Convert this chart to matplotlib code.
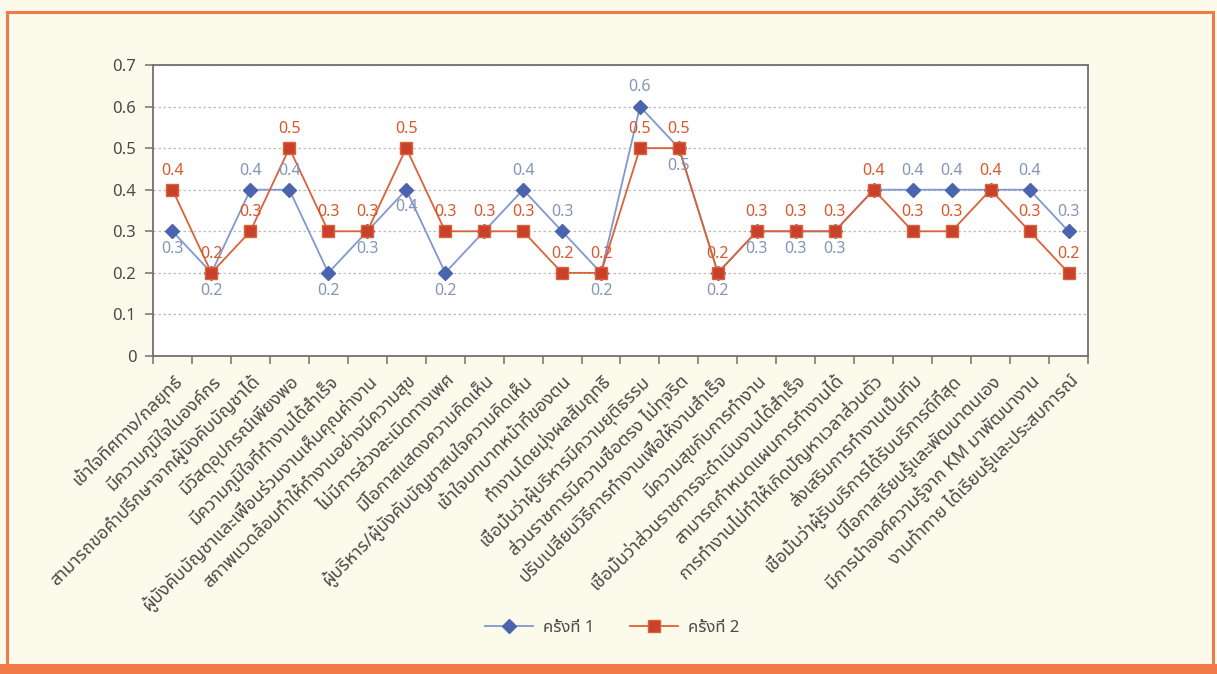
import matplotlib
matplotlib.use("Agg")
import matplotlib.pyplot as plt
from matplotlib import font_manager
from matplotlib.ft2font import FT2Font
from matplotlib.patches import Rectangle
from matplotlib.lines import Line2D

# survey items (x axis)
categories = [
    "เข้าใจทิศทาง/กลยุทธ์",
    "มีความภูมิใจในองค์กร",
    "สามารถขอคำปรึกษาจากผู้บังคับบัญชาได้",
    "มีวัสดุอุปกรณ์เพียงพอ",
    "มีความภูมิใจที่ทำงานได้สำเร็จ",
    "ผู้บังคับบัญชาและเพื่อนร่วมงานเห็นคุณค่างาน",
    "สภาพแวดล้อมทำให้ทำงานอย่างมีความสุข",
    "ไม่มีการล่วงละเมิดทางเพศ",
    "มีโอกาสแสดงความคิดเห็น",
    "ผู้บริหาร/ผู้บังคับบัญชาสนใจความคิดเห็น",
    "เข้าใจบทบาทหน้าที่ของตน",
    "ทำงานโดยมุ่งผลสัมฤทธิ์",
    "เชื่อมั่นว่าผู้บริหารมีความยุติธรรม",
    "ส่วนราชการมีความซื่อตรง ไม่ทุจริต",
    "ปรับเปลี่ยนวิธีการทำงานเพื่อให้งานสำเร็จ",
    "มีความสุขกับการทำงาน",
    "เชื่อมั่นว่าส่วนราชการจะดำเนินงานได้สำเร็จ",
    "สามารถกำหนดแผนการทำงานได้",
    "การทำงานไม่ทำให้เกิดปัญหาเวลาส่วนตัว",
    "ส่งเสริมการทำงานเป็นทีม",
    "เชื่อมั่นว่าผู้รับบริการได้รับบริการดีที่สุด",
    "มีโอกาสเรียนรู้และพัฒนาตนเอง",
    "มีการนำองค์ความรู้จาก KM มาพัฒนางาน",
    "งานท้าทาย ได้เรียนรู้และประสบการณ์",
]

round1 = [0.3, 0.2, 0.4, 0.4, 0.2, 0.3, 0.4, 0.2, 0.3, 0.4, 0.3, 0.2,
          0.6, 0.5, 0.2, 0.3, 0.3, 0.3, 0.4, 0.4, 0.4, 0.4, 0.4, 0.3]
round2 = [0.4, 0.2, 0.3, 0.5, 0.3, 0.3, 0.5, 0.3, 0.3, 0.3, 0.2, 0.2,
          0.5, 0.5, 0.2, 0.3, 0.3, 0.3, 0.4, 0.3, 0.3, 0.4, 0.3, 0.2]
series_names = ["ครั้งที่ 1", "ครั้งที่ 2"]

# where the round-1 value label sits (None = hidden behind round 2 label)
label_pos1 = ["below", "below", "above", "above", "below", "below", "below", "below",
              None, "above", "above", "below", "above", "below", "below", "below",
              "below", "below", None, "above", "above", None, "above", "above"]


def find_thai_font():
    prefer = ["Noto Sans Thai", "Noto Sans Thai Looped", "Noto Sans Thai UI",
              "Noto Sans", "Loma", "Garuda", "Kinnari", "Tlwg Typo"]
    found = {}
    for f in font_manager.fontManager.ttflist:
        try:
            if 0x0E01 in FT2Font(f.fname).get_charmap():
                found.setdefault(f.name, f.fname)
        except Exception:
            pass
    for name in prefer:
        if name in found:
            return name
    return sorted(found)[0] if found else None


thai = find_thai_font()
families = [thai, "DejaVu Sans"] if thai else ["DejaVu Sans"]
plt.rcParams["font.family"] = families

bg = "#fcfaea"
blue_mk = "#4a64ad"
blue_ln = "#8197cf"
blue_tx = "#8595b8"
red_mk = "#c9412a"
red_ln = "#d9623a"
red_tx = "#d8582c"
orange = "#f07a48"
axis_gray = "#707070"
text_gray = "#4a4a4a"

W, H = 1217, 674
fig = plt.figure(figsize=(W / 100, H / 100), dpi=100, facecolor=bg)

# orange frame
fig.patches.append(Rectangle((7 / W, 1 - 665 / H), 1206 / W, 653 / H,
                             transform=fig.transFigure, fill=False,
                             edgecolor=orange, linewidth=2.2))
fig.patches.append(Rectangle((0, 0), 1, 10 / H, transform=fig.transFigure,
                             facecolor=orange, edgecolor="none"))

ax = fig.add_axes([153 / W, 1 - 356 / H, (1088 - 153) / W, (356 - 65) / H])
ax.set_facecolor("white")

x = list(range(len(categories)))
ax.plot(x, round1, color=blue_ln, lw=1.3, marker="D", ms=7.5,
        mfc=blue_mk, mec=blue_mk, zorder=3)
ax.plot(x, round2, color=red_ln, lw=1.3, marker="s", ms=9,
        mfc=red_mk, mec=red_ln, zorder=4)

for i, v in enumerate(round2):
    ax.annotate(f"{v:.1f}", (i, v), xytext=(0, 8), textcoords="offset points",
                ha="center", va="bottom", color=red_tx, fontsize=11.5, zorder=5)
for i, v in enumerate(round1):
    if label_pos1[i] == "above":
        ax.annotate(f"{v:.1f}", (i, v), xytext=(0, 8), textcoords="offset points",
                    ha="center", va="bottom", color=blue_tx, fontsize=11.5, zorder=5)
    elif label_pos1[i] == "below":
        ax.annotate(f"{v:.1f}", (i, v), xytext=(0, -7), textcoords="offset points",
                    ha="center", va="top", color=blue_tx, fontsize=11.5, zorder=5)

ax.set_xlim(-0.5, len(categories) - 0.5)
ax.set_ylim(0, 0.7)
ax.set_yticks([0, 0.1, 0.2, 0.3, 0.4, 0.5, 0.6, 0.7])
ax.set_yticklabels(["0", "0.1", "0.2", "0.3", "0.4", "0.5", "0.6", "0.7"])
ax.yaxis.grid(True, color="#bcbcbc", linestyle=(0, (2, 2)), lw=0.9)
ax.set_axisbelow(True)

# ticks at category boundaries, labels at centres
ax.set_xticks([i - 0.5 for i in range(len(categories) + 1)])
ax.set_xticklabels([])
ax.set_xticks(x, minor=True)
ax.set_xticklabels(categories, minor=True, rotation=45, ha="right",
                   rotation_mode="anchor", fontsize=13, color=text_gray)
ax.tick_params(axis="x", which="minor", length=0, pad=11)
ax.tick_params(axis="x", which="major", length=6, width=1.1, color=axis_gray)
ax.tick_params(axis="y", length=6, width=1.1, color=axis_gray,
               labelsize=12, labelcolor=text_gray, pad=6)

for s in ax.spines.values():
    s.set_color(axis_gray)
    s.set_linewidth(1.3)

handles = [
    Line2D([], [], color=blue_ln, lw=1.3, marker="D", ms=7.5, mfc=blue_mk, mec=blue_mk),
    Line2D([], [], color=red_ln, lw=1.3, marker="s", ms=9, mfc=red_mk, mec=red_ln),
]
fig.legend(handles, series_names, loc="center", bbox_to_anchor=(0.503, 1 - 628 / H),
           ncol=2, frameon=False, fontsize=12, handlelength=2.9,
           handletextpad=0.6, columnspacing=2.1, labelcolor=text_gray)

fig.savefig("out.png", dpi=100, facecolor=bg)
